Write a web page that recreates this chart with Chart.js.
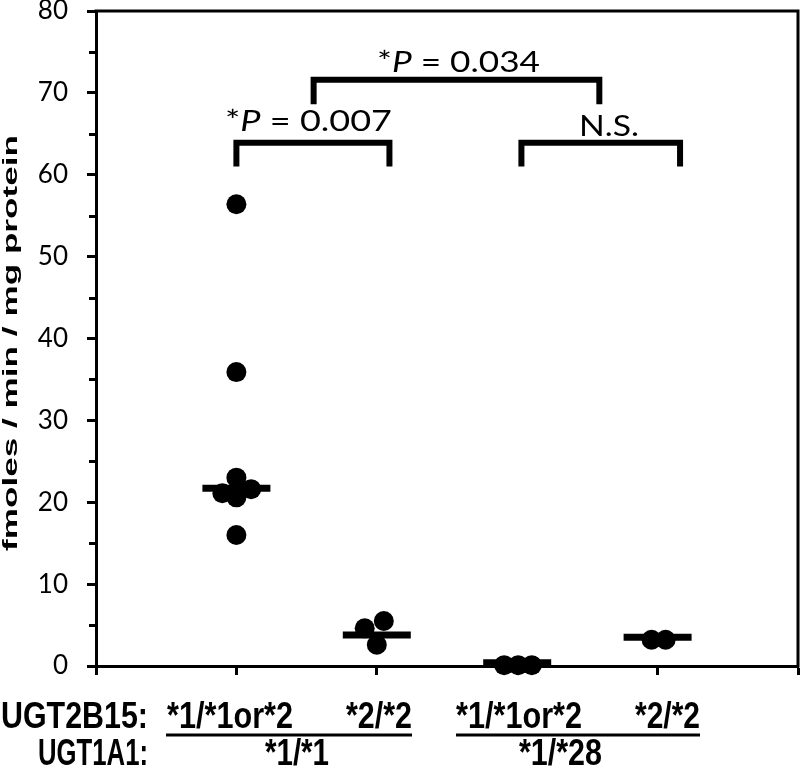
<!DOCTYPE html>
<html><head><meta charset="utf-8">
<script src="https://cdn.jsdelivr.net/npm/chart.js@4/dist/chart.umd.min.js"></script>
<style>html,body{margin:0;padding:0;background:#fff}#wrap{width:800px;height:769px;position:relative}</style>
</head><body><div id="wrap"><canvas id="c" width="800" height="769"></canvas></div>
<script>
// ---- data ----
const groupPositions = [1, 2, 3, 4];
const ugt2b15Labels = ['*1/*1or*2', '*2/*2', '*1/*1or*2', '*2/*2'];
const ugt1a1Labels = ['*1/*1', '*1/*28'];
const rowLabels = ['UGT2B15:', 'UGT1A1:'];
// individual samples: x = group position (with the jitter seen in the figure), y = activity
const sampleX = [1.0, 1.0, 1.0, 1.105, 0.9, 1.0, 1.0,  1.914, 2.05, 2.0,  2.907, 3.007, 3.104,  3.957, 4.057];
const sampleY = [56.4, 35.9, 23.0, 21.6, 21.1, 20.6, 16.0,  4.6, 5.5, 2.6,  0.1, 0.1, 0.1,  3.2, 3.2];
const medians = [21.7, 3.8, 0.4, 3.5];
const yTickStep = 10;
const yMinorStep = 5;
const yMax = 80;
// significance brackets: from group a to group b, horizontal bar value, leg end value
const bracketFrom = [1.0, 3.03, 1.55];
const bracketTo   = [2.09, 4.16, 3.585];
const bracketTop  = [63.9, 63.9, 71.6];
const bracketLeg  = [61.0, 61.0, 68.6];
const bracketText = [['*', 'P', ' = 0.007'], ['N.S.'], ['*', 'P', ' = 0.034']];

const BLACK = '#000';

function fitDraw(ctx, parts, left, right, baseline) {
  let total = 0;
  parts.forEach(p => { ctx.font = p.font; p.w = ctx.measureText(p.t).width; total += p.w; });
  const sx = (right - left) / total;
  ctx.save();
  ctx.translate(left, baseline);
  ctx.scale(sx, 1);
  ctx.textAlign = 'left';
  ctx.textBaseline = 'alphabetic';
  let x = 0;
  parts.forEach(p => { ctx.font = p.font; ctx.fillText(p.t, x, 0); x += p.w; });
  ctx.restore();
}

const overlay = {
  id: 'overlay',
  afterDatasetsDraw(chart) {
    const ctx = chart.ctx;
    const a = chart.chartArea;
    const xs = chart.scales.x, ys = chart.scales.y;
    ctx.save();
    ctx.fillStyle = BLACK;
    ctx.strokeStyle = BLACK;
    // frame top + right
    ctx.lineWidth = 3;
    ctx.lineCap = 'butt';
    ctx.beginPath();
    ctx.moveTo(a.left - 1.5, a.top);
    ctx.lineTo(a.right, a.top);
    ctx.lineTo(a.right, a.bottom + 1.5);
    ctx.stroke();

    // shorter minor ticks on the y axis
    ctx.lineWidth = 3;
    ctx.beginPath();
    ys.ticks.forEach(t => {
      if (t.value % yTickStep !== 0) {
        const py = Math.round(ys.getPixelForValue(t.value)) + 0.5;
        ctx.moveTo(a.left, py); ctx.lineTo(a.left - 7, py);
      }
    });
    ctx.stroke();

    // brackets
    ctx.lineWidth = 6;
    ctx.lineJoin = 'miter';
    for (let i = 0; i < bracketFrom.length; i++) {
      const x1 = xs.getPixelForValue(bracketFrom[i]);
      const x2 = xs.getPixelForValue(bracketTo[i]);
      const yt = ys.getPixelForValue(bracketTop[i]);
      const yl = ys.getPixelForValue(bracketLeg[i]);
      ctx.beginPath();
      ctx.moveTo(x1, yl); ctx.lineTo(x1, yt); ctx.lineTo(x2, yt); ctx.lineTo(x2, yl);
      ctx.stroke();
    }
    // bracket texts
    const fN = '29px Lato', fI = 'italic 29px Lato';
    const mk = arr => arr.length === 1 ? [{t: arr[0], font: fN}] :
      [{t: arr[0], font: fN}, {t: arr[1], font: fI}, {t: arr[2], font: fN}];
    fitDraw(ctx, mk(bracketText[0]), 225, 392, 131);
    fitDraw(ctx, mk(bracketText[1]), 579, 639, 136);
    fitDraw(ctx, mk(bracketText[2]), 377, 540, 72);

    // y axis title
    ctx.save();
    ctx.font = 'bold 21px "Liberation Sans"';
    const tw = ctx.measureText('fmoles / min / mg protein').width;
    ctx.translate(17, 343);
    ctx.rotate(-Math.PI / 2);
    ctx.scale(416 / tw, 1);
    ctx.textAlign = 'center';
    ctx.textBaseline = 'alphabetic';
    ctx.fillText('fmoles / min / mg protein', 0, 0);
    ctx.restore();

    // bottom genotype labels
    const fb = 'bold 36px "Liberation Sans"';
    fitDraw(ctx, [{t: rowLabels[0], font: fb}], 1, 148, 728);
    fitDraw(ctx, [{t: rowLabels[1], font: fb}], 38, 148, 765);
    fitDraw(ctx, [{t: ugt2b15Labels[0], font: fb}], 167, 293, 728);
    fitDraw(ctx, [{t: ugt2b15Labels[1], font: fb}], 346, 412, 728);
    fitDraw(ctx, [{t: ugt2b15Labels[2], font: fb}], 456, 582, 728);
    fitDraw(ctx, [{t: ugt2b15Labels[3], font: fb}], 635, 700, 728);
    fitDraw(ctx, [{t: ugt1a1Labels[0], font: fb}], 265, 329, 765);
    fitDraw(ctx, [{t: ugt1a1Labels[1], font: fb}], 519, 602, 765);
    ctx.lineWidth = 3;
    ctx.beginPath();
    ctx.moveTo(166, 735); ctx.lineTo(412, 735);
    ctx.moveTo(456, 735); ctx.lineTo(700, 735);
    ctx.stroke();
    ctx.restore();
  }
};

new Chart(document.getElementById('c'), {
  type: 'scatter',
  data: {
    datasets: [
      {
        label: 'median',
        data: medians.map((m, i) => ({x: groupPositions[i], y: m})),
        pointStyle: 'line',
        pointRadius: 34,
        pointBorderWidth: 7,
        borderColor: BLACK,
        backgroundColor: BLACK,
        showLine: false,
        clip: false
      },
      {
        label: 'samples',
        data: sampleX.map((x, i) => ({x: x, y: sampleY[i]})),
        pointStyle: 'circle',
        pointRadius: 10,
        pointBorderWidth: 0,
        backgroundColor: BLACK,
        borderColor: BLACK,
        showLine: false,
        clip: false
      }
    ]
  },
  options: {
    responsive: false,
    devicePixelRatio: 1,
    animation: false,
    events: [],
    layout: {autoPadding: false, padding: {top: 11, right: 2, left: 0, bottom: 0}},
    plugins: {legend: {display: false}, tooltip: {enabled: false}, title: {display: false}},
    scales: {
      x: {
        type: 'linear', min: 0, max: 5,
        ticks: {stepSize: 1, autoSkip: false, callback: () => '', padding: 0, font: {size: 10}},
        grid: {display: true, drawOnChartArea: false, drawTicks: true, tickLength: 9, tickWidth: 3, tickColor: BLACK},
        border: {display: true, color: BLACK, width: 3},
        afterFit: s => { s.height = 103; s.paddingLeft = 0; s.paddingRight = 0; }
      },
      y: {
        type: 'linear', min: 0, max: yMax,
        ticks: {
          stepSize: yMinorStep, autoSkip: false,
          callback: v => (v % yTickStep === 0 ? String(v) : ''),
          font: {family: 'Lato', size: 26}, color: BLACK, padding: 19
        },
        grid: {
          display: true, drawOnChartArea: false, drawTicks: true, tickLength: 9, tickWidth: 3,
          tickColor: c => (c.tick && c.tick.value % yTickStep === 0 ? BLACK : 'rgba(0,0,0,0)')
        },
        border: {display: true, color: BLACK, width: 3},
        afterFit: s => { s.width = 96; s.paddingTop = 0; s.paddingBottom = 0; }
      }
    }
  },
  plugins: [overlay]
});
</script></body></html>
